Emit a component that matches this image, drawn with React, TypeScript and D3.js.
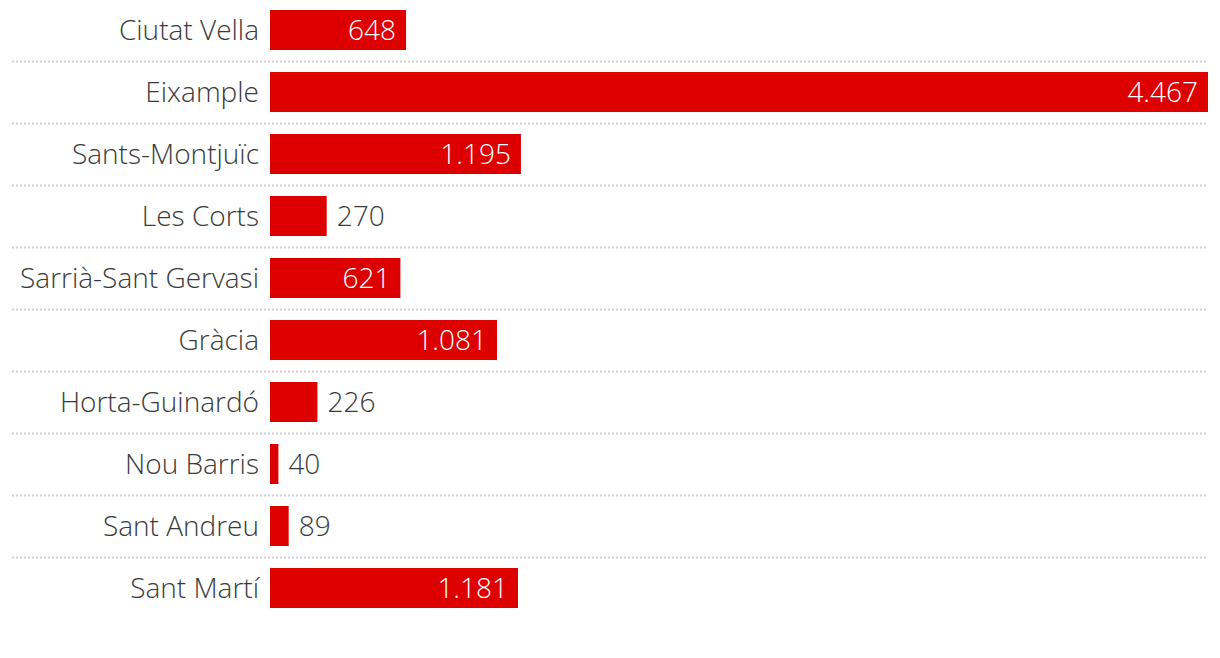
import React from "react";
import * as d3 from "d3";

const districts = [
  "Ciutat Vella",
  "Eixample",
  "Sants-Montjuïc",
  "Les Corts",
  "Sarrià-Sant Gervasi",
  "Gràcia",
  "Horta-Guinardó",
  "Nou Barris",
  "Sant Andreu",
  "Sant Martí",
];
const values = [648, 4467, 1195, 270, 621, 1081, 226, 40, 89, 1181];

const W = 1220;
const H = 658;
const x0 = 270;
const x1 = 1208;
const rowH = 62;
const barH = 40;
const top = 10;

const fmt = (v: number) => d3.format(",")(v).replace(/,/g, ".");

export default function App() {
  const x = d3.scaleLinear().domain([0, d3.max(values) as number]).range([0, x1 - x0]);
  const font = "'Open Sans', sans-serif";
  return (
    <svg
      width={W}
      height={H}
      style={{ position: "absolute", left: 0, top: 0 }}
      fontFamily={font}
    >
      {districts.map((d, i) => {
        const y = top + i * rowH;
        const w = x(values[i]);
        const inside = w > 100;
        return (
          <g key={d}>
            <text
              x={259}
              y={y + barH / 2}
              dy="0.36em"
              textAnchor="end"
              fontSize={28}
              fontWeight={300}
              fill="#3a3a3a"
            >
              {d}
            </text>
            <rect x={x0} y={y} width={w} height={barH} fill="#dd0000" />
            <text
              x={inside ? x0 + w - 10 : x0 + w + 10}
              y={y + barH / 2}
              dy="0.36em"
              textAnchor={inside ? "end" : "start"}
              fontSize={28}
              fontWeight={300}
              fill={inside ? "#fff" : "#3a3a3a"}
            >
              {fmt(values[i])}
            </text>
            {i < districts.length - 1 && (
              <line
                x1={12}
                x2={x1}
                y1={y + barH + 11.5}
                y2={y + barH + 11.5}
                stroke="#d0d0d0"
                strokeWidth={2}
                strokeDasharray="2,2"
              />
            )}
          </g>
        );
      })}
    </svg>
  );
}
